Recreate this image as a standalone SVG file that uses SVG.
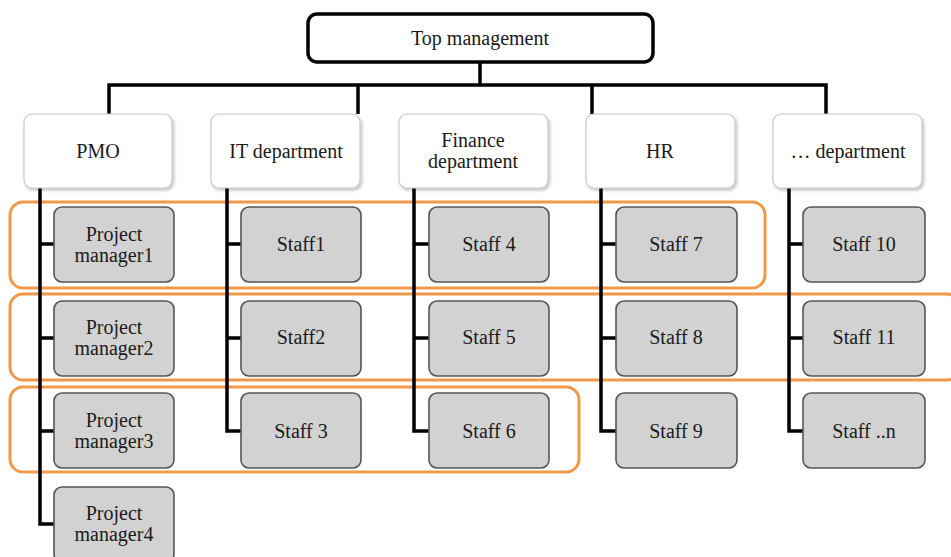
<svg xmlns="http://www.w3.org/2000/svg" width="951" height="557" viewBox="0 0 951 557">
<defs>
<filter id="sh" x="-10%" y="-10%" width="130%" height="140%">
<feDropShadow dx="1.5" dy="2" stdDeviation="1.5" flood-color="#000" flood-opacity="0.25"/>
</filter>
</defs>
<style>
text{font-size:20px;fill:#1a1a1a;text-anchor:middle}
.top{fill:#fff;stroke:#000;stroke-width:3.5}
.dept{fill:#fff;stroke:#c8c8c8;stroke-width:1.2;filter:url(#sh)}
.staff{fill:#d2d2d2;stroke:#555;stroke-width:1.6}
.grp{fill:none;stroke:#f0994a;stroke-width:3}
.con{fill:none;stroke:#000;stroke-width:3.5;stroke-linejoin:miter}
</style>
<rect width="951" height="557" fill="#fff"/>
<g id="groups">
<rect class="grp" x="10" y="202" width="755" height="86" rx="13"/>
<rect class="grp" x="10" y="294" width="950" height="86" rx="13"/>
<rect class="grp" x="10" y="387" width="569" height="85" rx="13"/>
</g>
<g id="connectors">
<path class="con" d="M480 62V85M109 114V85H826V114M358 85V114M592 85V114"/>
<path class="con" d="M40 188V524H54M40 244H54M40 338H54M40 431H54"/>
<path class="con" d="M227 188V431H241M227 244H241M227 338H241"/>
<path class="con" d="M414 188V431H429M414 244H429M414 338H429"/>
<path class="con" d="M601 188V431H616M601 244H616M601 338H616"/>
<path class="con" d="M789 188V431H803M789 244H803M789 338H803"/>
</g>
<g style="font-family:'Liberation Serif',serif">
<g id="top"><rect class="top" x="308" y="14" width="345" height="48" rx="9"/><text x="480" y="45">Top management</text></g>
<g id="pmo"><rect class="dept" x="24" y="114" width="148" height="74" rx="8"/><text x="98" y="158">PMO</text></g>
<g id="it"><rect class="dept" x="211" y="114" width="149" height="74" rx="8"/><text x="286" y="158">IT department</text></g>
<g id="finance"><rect class="dept" x="399" y="114" width="149" height="74" rx="8"/><text x="473" y="147">Finance</text><text x="473" y="168">department</text></g>
<g id="hr"><rect class="dept" x="586" y="114" width="149" height="74" rx="8"/><text x="660" y="158">HR</text></g>
<g id="other"><rect class="dept" x="773" y="114" width="149" height="74" rx="8"/><text x="848" y="158">… department</text></g>
<g id="pm1"><rect class="staff" x="54" y="207" width="120" height="75" rx="8"/><text x="114" y="241">Project</text><text x="114" y="262">manager1</text></g>
<g id="pm2"><rect class="staff" x="54" y="301" width="120" height="75" rx="8"/><text x="114" y="334">Project</text><text x="114" y="355">manager2</text></g>
<g id="pm3"><rect class="staff" x="54" y="393" width="120" height="75" rx="8"/><text x="114" y="427">Project</text><text x="114" y="448">manager3</text></g>
<g id="pm4"><rect class="staff" x="54" y="487" width="120" height="75" rx="8"/><text x="114" y="520">Project</text><text x="114" y="541">manager4</text></g>
<g id="s1"><rect class="staff" x="241" y="207" width="120" height="75" rx="8"/><text x="301" y="251">Staff1</text></g>
<g id="s2"><rect class="staff" x="241" y="301" width="120" height="75" rx="8"/><text x="301" y="344">Staff2</text></g>
<g id="s3"><rect class="staff" x="241" y="393" width="120" height="75" rx="8"/><text x="301" y="438">Staff 3</text></g>
<g id="s4"><rect class="staff" x="429" y="207" width="120" height="75" rx="8"/><text x="489" y="251">Staff 4</text></g>
<g id="s5"><rect class="staff" x="429" y="301" width="120" height="75" rx="8"/><text x="489" y="344">Staff 5</text></g>
<g id="s6"><rect class="staff" x="429" y="393" width="120" height="75" rx="8"/><text x="489" y="438">Staff 6</text></g>
<g id="s7"><rect class="staff" x="616" y="207" width="121" height="75" rx="8"/><text x="676" y="251">Staff 7</text></g>
<g id="s8"><rect class="staff" x="616" y="301" width="121" height="75" rx="8"/><text x="676" y="344">Staff 8</text></g>
<g id="s9"><rect class="staff" x="616" y="393" width="121" height="75" rx="8"/><text x="676" y="438">Staff 9</text></g>
<g id="s10"><rect class="staff" x="803" y="207" width="122" height="75" rx="8"/><text x="864" y="251">Staff 10</text></g>
<g id="s11"><rect class="staff" x="803" y="301" width="122" height="75" rx="8"/><text x="864" y="344">Staff 11</text></g>
<g id="sn"><rect class="staff" x="803" y="393" width="122" height="75" rx="8"/><text x="864" y="438">Staff ..n</text></g>
</g>
</svg>
